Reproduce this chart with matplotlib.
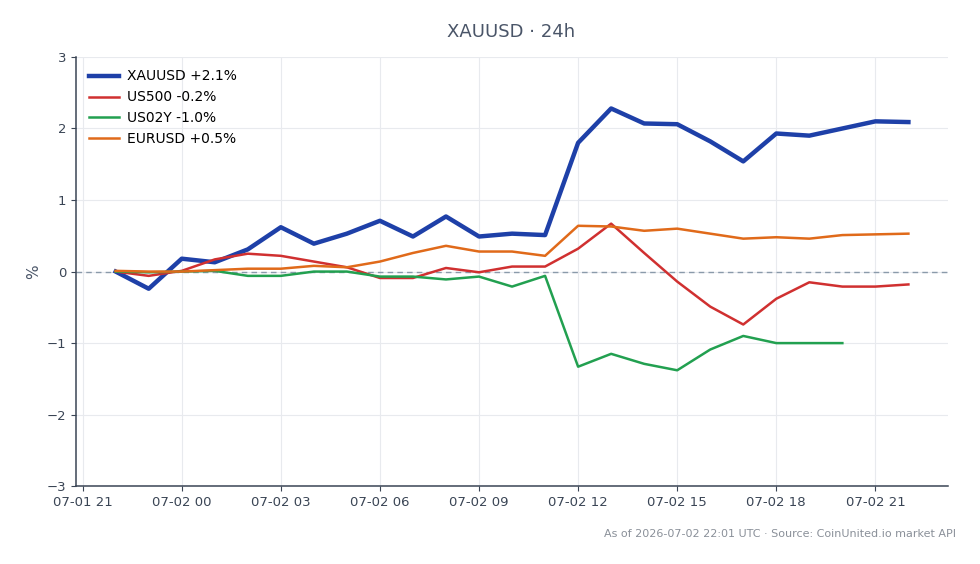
import matplotlib
matplotlib.use("Agg")
import matplotlib.pyplot as plt
import matplotlib.dates as mdates
import pandas as pd
import numpy as np

times = pd.date_range("2026-07-01 22:00", "2026-07-02 22:00", freq="h")

xauusd = [0, -0.24, 0.18, 0.13, 0.31, 0.62, 0.39, 0.53, 0.71, 0.49, 0.77, 0.49, 0.53, 0.51,
          1.80, 2.28, 2.07, 2.06, 1.82, 1.54, 1.93, 1.90, 2.00, 2.10, 2.09]
us500 = [0, -0.06, 0.01, 0.17, 0.25, 0.22, 0.14, 0.06, -0.09, -0.09, 0.05, -0.01, 0.07, 0.07,
         0.32, 0.67, 0.26, -0.14, -0.49, -0.74, -0.38, -0.15, -0.21, -0.21, -0.18]
us02y = [0, -0.01, 0, 0.01, -0.06, -0.06, 0, 0, -0.07, -0.07, -0.11, -0.07, -0.21, -0.06,
         -1.33, -1.15, -1.29, -1.38, -1.09, -0.90, -1.0, -1.0, -1.0]
eurusd = [0.01, 0, 0, 0.02, 0.04, 0.04, 0.08, 0.06, 0.14, 0.26, 0.36, 0.28, 0.28, 0.22,
          0.64, 0.63, 0.57, 0.60, 0.53, 0.46, 0.48, 0.46, 0.51, 0.52, 0.53]

labels = ["XAUUSD +2.1%", "US500 -0.2%", "US02Y -1.0%", "EURUSD +0.5%"]
colors = ["#1e40a8", "#d03030", "#22a050", "#e06a1a"]
widths = [3.2, 1.8, 1.8, 1.8]
series = [xauusd, us500, us02y, eurusd]

fig = plt.figure(figsize=(9.8, 5.64), dpi=100)
ax = fig.add_axes([0.0776, 0.138, 0.8898, 0.761])

ax.axhline(0, color="#8a9aaa", lw=1, ls=(0, (4, 3)), zorder=1)
for s, lab, c, w in zip(series, labels, colors, widths):
    ax.plot(times[:len(s)], s, color=c, lw=w, label=lab, zorder=3)

ax.set_ylim(-3, 3)
ax.set_yticks([-3, -2, -1, 0, 1, 2, 3])
ax.set_yticklabels(["\u22123", "\u22122", "\u22121", "0", "1", "2", "3"])
ax.set_ylabel("%", color="#4a5568", fontsize=11)
ax.xaxis.set_major_locator(mdates.HourLocator(byhour=[0, 3, 6, 9, 12, 15, 18, 21]))
ax.xaxis.set_major_formatter(mdates.DateFormatter("%m-%d %H"))
ax.grid(True, color="#e8eaee", lw=0.8)
ax.set_axisbelow(True)
for sp in ["top", "right"]:
    ax.spines[sp].set_visible(False)
for sp in ["left", "bottom"]:
    ax.spines[sp].set_color("#3a4555")
    ax.spines[sp].set_linewidth(1.1)
ax.tick_params(colors="#3a4555", labelsize=9.5, labelcolor="#3a4555")

ax.legend(loc="upper left", frameon=False, fontsize=10, handlelength=2.2,
          handletextpad=0.6, borderaxespad=0.5, labelspacing=0.5)

fig.text(0.522, 0.944, "XAUUSD \u00b7 24h", ha="center", va="center", fontsize=13, color="#4a5568")
fig.text(0.975, 0.054, "As of 2026-07-02 22:01 UTC \u00b7 Source: CoinUnited.io market API",
         ha="right", va="center", fontsize=8, color="#8a9099")

fig.savefig("out.png", dpi=100)
